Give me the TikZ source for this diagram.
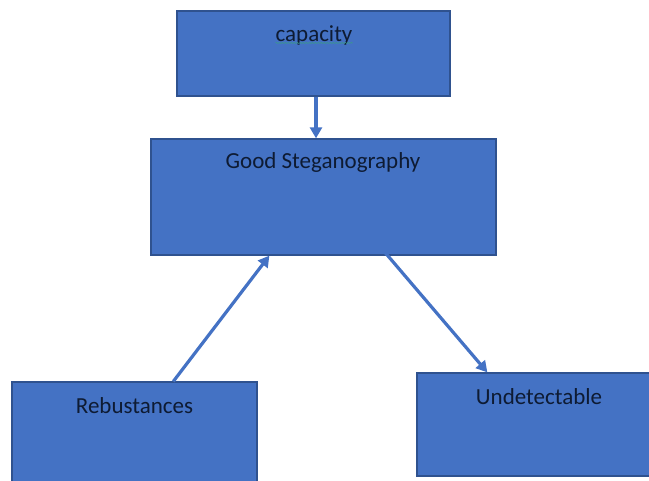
\documentclass[tikz,border=0pt]{standalone}
\usepackage{fontspec}
\setmainfont{Carlito}
\usetikzlibrary{decorations.pathmorphing,arrows.meta}
\definecolor{boxfill}{HTML}{4472C4}
\definecolor{boxline}{HTML}{2F528F}
\definecolor{txt}{HTML}{0E1B33}
\definecolor{squig}{HTML}{3A9A8A}
\begin{document}
\begin{tikzpicture}[x=1pt,y=-1pt,
  box/.style={draw=boxline,fill=boxfill,line width=1.3pt,inner sep=0pt},
  lbl/.style={text=txt,font=\fontsize{23}{26}\selectfont,inner sep=0pt},
  arr/.style={draw=boxfill,line width=3.2pt,-{Triangle[length=11pt,width=12pt]}}]
\useasboundingbox (0,0) rectangle (649,481);
\clip (0,0) rectangle (649,481);
\node[box,minimum width=273pt,minimum height=85pt] (cap) at (313.5,53.5) {};
\node[box,minimum width=345pt,minimum height=116pt] (good) at (323.5,197) {};
\node[box,minimum width=245pt,minimum height=120pt] (reb) at (134.5,442) {};
\node[box,minimum width=260pt,minimum height=103pt] (und) at (547,424.5) {};
\node[lbl] (capT) at (314,35) {capacity};
\node[lbl] (goodT) at (323,162) {Good Steganography};
\node[lbl] (rebT) at (134.5,406) {Rebustances};
\node[lbl] (undT) at (539,397) {Undetectable};
\draw[squig,line width=0.6pt,decorate,decoration={snake,amplitude=0.5pt,segment length=3pt}]
  ([yshift=2pt]capT.south west) -- ([yshift=2pt]capT.south east);
\draw[arr] ([xshift=2.5pt]cap.south) -- ([xshift=-7.5pt]good.north);
\draw[arr] ([xshift=162pt]reb.north west) -- ([xshift=119pt]good.south west);
\draw[arr] ([xshift=234pt,yshift=4pt]good.south west) -- ([xshift=71pt]und.north west);
\end{tikzpicture}
\end{document}
